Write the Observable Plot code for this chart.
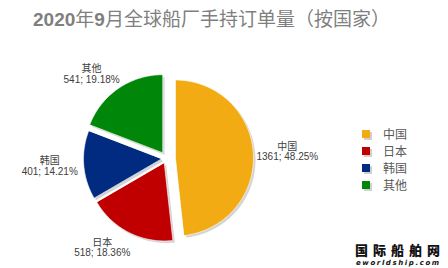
<!DOCTYPE html>
<html><head><meta charset="utf-8">
<script src="https://cdn.jsdelivr.net/npm/d3@7"></script>
<script src="https://cdn.jsdelivr.net/npm/@observablehq/plot@0.6"></script>
<style>
body{margin:0;background:#fff;width:448px;height:268px;overflow:hidden;position:relative;font-family:"Liberation Sans","Noto Sans CJK SC",sans-serif;}
#title{position:absolute;left:33px;top:8px;white-space:nowrap;font-size:19px;line-height:24px;color:#7f7f7f;font-family:"Liberation Sans","Noto Sans CJK SC",sans-serif;}
#title b{font-weight:bold;}
#chart{position:absolute;left:0;top:38px;}
#legend{position:absolute;left:362px;top:125px;font-family:"Noto Sans CJK SC",sans-serif;font-size:12px;color:#595959;}
.row{display:flex;align-items:center;height:17px;}
.sw{width:8px;height:8px;margin-right:13px;box-shadow:2px 2px 0 #d0d0d0;}
#wm1{position:absolute;left:355px;top:243px;font-family:"Noto Sans CJK SC",sans-serif;font-weight:900;font-size:13px;letter-spacing:5px;line-height:13px;color:#111;white-space:nowrap;}
#wm2{position:absolute;left:356px;top:259px;font-family:"DejaVu Sans",sans-serif;font-weight:bold;font-style:italic;font-size:7px;letter-spacing:1.6px;line-height:8px;color:#111;white-space:nowrap;}
</style></head>
<body>
<div id="title"><b>2020</b>年<b>9</b>月全球船厂手持订单量（按国家）</div>
<div id="chart"></div>
<div id="legend"></div>
<div id="wm1">国际船舶网</div>
<div id="wm2">eworldship.com</div>
<script>
const categories = ["中国","日本","韩国","其他"];
const values = [1361, 518, 401, 541];
const percents = ["48.25%","18.36%","14.21%","19.18%"];
const colors = ["#f2ab12","#c00000","#002b80","#00870a"];
const explode = [9,5,5,7];
const labelRadius = [121, 110, 117, 113];
const labelTurn = [0, 9, 1, -7]; // degrees, label placement nudge

const R = 78;
const pie = d3.pie().sort(null).value(d => d)(values);
const pts = [];
const labels = [];
pie.forEach((p, i) => {
  const mid = (p.startAngle + p.endAngle) / 2;
  const ox = explode[i] * Math.sin(mid), oy = explode[i] * Math.cos(mid);
  pts.push({k: categories[i], x: ox, y: oy});
  const n = Math.max(2, Math.ceil((p.endAngle - p.startAngle) / 0.02));
  for (let j = 0; j <= n; j++) {
    const a = p.startAngle + (p.endAngle - p.startAngle) * j / n;
    pts.push({k: categories[i], x: ox + R * Math.sin(a), y: oy + R * Math.cos(a)});
  }
  const la = mid + labelTurn[i] * Math.PI / 180;
  labels.push({x: labelRadius[i] * Math.sin(la), y: labelRadius[i] * Math.cos(la),
    t: categories[i] + "\n" + values[i] + "; " + percents[i]});
});

const chart = Plot.plot({
  width: 448, height: 230, margin: 0,
  style: {background: "transparent"},
  x: {domain: [-166, 282], axis: null},
  y: {domain: [-110, 120], axis: null},
  color: {domain: categories, range: colors},
  marks: [
    Plot.line(pts, {x: "x", y: "y", z: "k", fill: "#d4d4d4", stroke: "none", curve: "linear-closed", dx: 2, dy: 2}),
    Plot.line(pts, {x: "x", y: "y", z: "k", fill: "k", stroke: "white", strokeWidth: 0.6, curve: "linear-closed"}),
    Plot.text(labels, {x: "x", y: "y", text: "t", fontSize: 10, lineHeight: 1.05, fill: "#404040",
      fontFamily: "Liberation Sans, Noto Sans CJK SC, sans-serif"})
  ]
});
document.getElementById("chart").appendChild(chart);

const lg = document.getElementById("legend");
categories.forEach((c, i) => {
  const row = document.createElement("div");
  row.className = "row";
  const sw = document.createElement("div");
  sw.className = "sw";
  sw.style.background = colors[i];
  const tx = document.createElement("span");
  tx.textContent = c;
  row.appendChild(sw); row.appendChild(tx);
  lg.appendChild(row);
});
</script>
</body></html>
